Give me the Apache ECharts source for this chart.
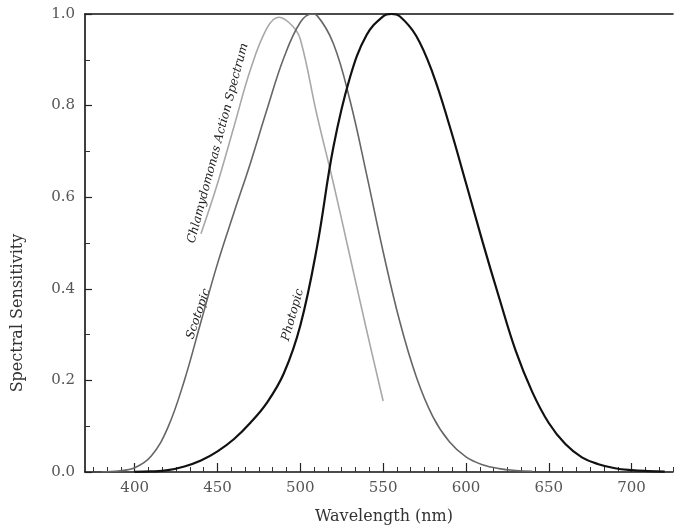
<!DOCTYPE html>
<html>
<head>
<meta charset="utf-8">
<script src="https://cdn.jsdelivr.net/npm/echarts@6/dist/echarts.min.js"></script>
<style>
  html, body { margin: 0; padding: 0; background: #fff; }
  #chart { width: 675px; height: 531px; }
</style>
</head>
<body>
<div id="chart"></div>
<script>
// Wavelength ticks and labels
const xMin = 370;
const xMax = 725;
const xMajorTicks = [400, 450, 500, 550, 600, 650, 700];
const yTickLabels = ['0.0', '0.2', '0.4', '0.6', '0.8', '1.0'];

// Photopic luminous efficiency
const photopicWl  = [400, 410, 420, 430, 440, 450, 460, 470, 480, 490, 500, 510, 520, 530, 540, 550, 555, 560, 570, 580, 590, 600, 610, 620, 630, 640, 650, 660, 670, 680, 690, 700, 710, 720];
const photopicVal = [0.0004, 0.0012, 0.004, 0.012, 0.025, 0.045, 0.072, 0.108, 0.152, 0.215, 0.32, 0.49, 0.71, 0.862, 0.954, 0.995, 1.0, 0.995, 0.952, 0.87, 0.757, 0.631, 0.503, 0.381, 0.265, 0.175, 0.107, 0.061, 0.032, 0.017, 0.0082, 0.0041, 0.0021, 0.001];

// Scotopic luminous efficiency
const scotopicWl  = [380, 390, 400, 410, 420, 430, 440, 450, 460, 470, 480, 490, 500, 507, 510, 520, 530, 540, 550, 560, 570, 580, 590, 600, 610, 620, 630, 640];
const scotopicVal = [0.0006, 0.0022, 0.0093, 0.035, 0.097, 0.2, 0.328, 0.455, 0.567, 0.676, 0.793, 0.904, 0.982, 1.0, 0.997, 0.935, 0.811, 0.65, 0.481, 0.329, 0.208, 0.121, 0.066, 0.033, 0.016, 0.0074, 0.0033, 0.0015];

// Chlamydomonas action spectrum
const chlamyWl  = [440, 450, 460, 470, 480, 487, 495, 500, 510, 520, 530, 540, 550];
const chlamyVal = [0.52, 0.63, 0.755, 0.88, 0.97, 0.993, 0.975, 0.945, 0.78, 0.63, 0.47, 0.31, 0.155];

const pairs = (xs, ys) => xs.map((x, i) => [x, ys[i]]);

// minor ticks every 50/6 nm
const xMinorTicks = [];
for (let v = 375; v <= xMax + 0.01; v += 50 / 6) {
  const r = Math.round(v * 1000) / 1000;
  if (!xMajorTicks.some(m => Math.abs(m - r) < 0.01)) xMinorTicks.push(r);
}

const serif = 'DejaVu Serif';
const chart = echarts.init(document.getElementById('chart'), null, { renderer: 'canvas' });

chart.setOption({
  animation: false,
  backgroundColor: '#fff',
  grid: { left: 85, right: 2, top: 14, bottom: 59, containLabel: false, outerBoundsMode: 'none' },
  xAxis: [
    {
      type: 'value', min: xMin, max: xMax, position: 'bottom',
      name: 'Wavelength (nm)', nameLocation: 'middle', nameGap: 37,
      nameTextStyle: { fontFamily: serif, fontSize: 16, color: '#333', padding: [0, 0, 0, 10] },
      axisLine: { show: true, onZero: false, lineStyle: { color: '#111', width: 1.6 } },
      axisTick: { show: true, inside: true, length: 9, customValues: xMajorTicks, lineStyle: { color: '#222', width: 1.2 } },
      axisLabel: { customValues: xMajorTicks, margin: 9, fontFamily: serif, fontSize: 15, color: '#555' },
      splitLine: { show: false }
    },
    {
      type: 'value', min: xMin, max: xMax, position: 'bottom', gridIndex: 0,
      axisLine: { show: false },
      axisTick: { show: true, inside: true, length: 5, customValues: xMinorTicks, lineStyle: { color: '#333', width: 1 } },
      axisLabel: { show: false },
      splitLine: { show: false }
    },
    {
      type: 'value', min: xMin, max: xMax, position: 'top', gridIndex: 0,
      axisLine: { show: true, onZero: false, lineStyle: { color: '#111', width: 1.6 } },
      axisTick: { show: false },
      axisLabel: { show: false },
      splitLine: { show: false }
    }
  ],
  yAxis: {
    type: 'value', min: 0, max: 1, interval: 0.2,
    axisLine: { show: true, onZero: false, lineStyle: { color: '#111', width: 1.6 } },
    axisTick: { show: true, inside: true, length: 7, lineStyle: { color: '#222', width: 1.2 } },
    minorTick: { show: true, splitNumber: 2, length: 5, lineStyle: { color: '#333', width: 1 } },
    axisLabel: {
      margin: 10, fontFamily: serif, fontSize: 15, color: '#555',
      formatter: v => yTickLabels[Math.round(v * 5)]
    },
    splitLine: { show: false }
  },
  series: [
    {
      name: 'Chlamydomonas Action Spectrum', type: 'line', smooth: 0.4, showSymbol: false,
      data: pairs(chlamyWl, chlamyVal), xAxisIndex: 0,
      lineStyle: { color: '#a8a8a8', width: 1.6 }
    },
    {
      name: 'Scotopic', type: 'line', smooth: 0.4, showSymbol: false,
      data: pairs(scotopicWl, scotopicVal), xAxisIndex: 0,
      lineStyle: { color: '#666', width: 1.6 }
    },
    {
      name: 'Photopic', type: 'line', smooth: 0.4, showSymbol: false,
      data: pairs(photopicWl, photopicVal), xAxisIndex: 0,
      lineStyle: { color: '#111', width: 2.2 }
    }
  ]
});

// Curve captions, anchored to data coordinates along each curve
const captions = [
  { text: 'Chlamydomonas Action Spectrum', at: [450.3, 0.718], angle: 75 },
  { text: 'Scotopic', at: [438.5, 0.345], angle: 71 },
  { text: 'Photopic', at: [495.5, 0.343], angle: 74 }
];
const captionGraphics = captions.map(c => {
  const p = chart.convertToPixel({ xAxisIndex: 0, yAxisIndex: 0 }, c.at);
  return {
    type: 'text', x: p[0], y: p[1], rotation: c.angle * Math.PI / 180,
    style: { text: c.text, fontFamily: serif, fontStyle: 'italic', fontSize: 12, fill: '#222', align: 'center', verticalAlign: 'middle' }
  };
});
captionGraphics.push({
  type: 'text', x: 18, y: 313, rotation: Math.PI / 2,
  style: { text: 'Spectral Sensitivity', fontFamily: serif, fontSize: 16, fill: '#333', align: 'center', verticalAlign: 'middle' }
});
chart.setOption({ graphic: captionGraphics });
</script>
</body>
</html>
